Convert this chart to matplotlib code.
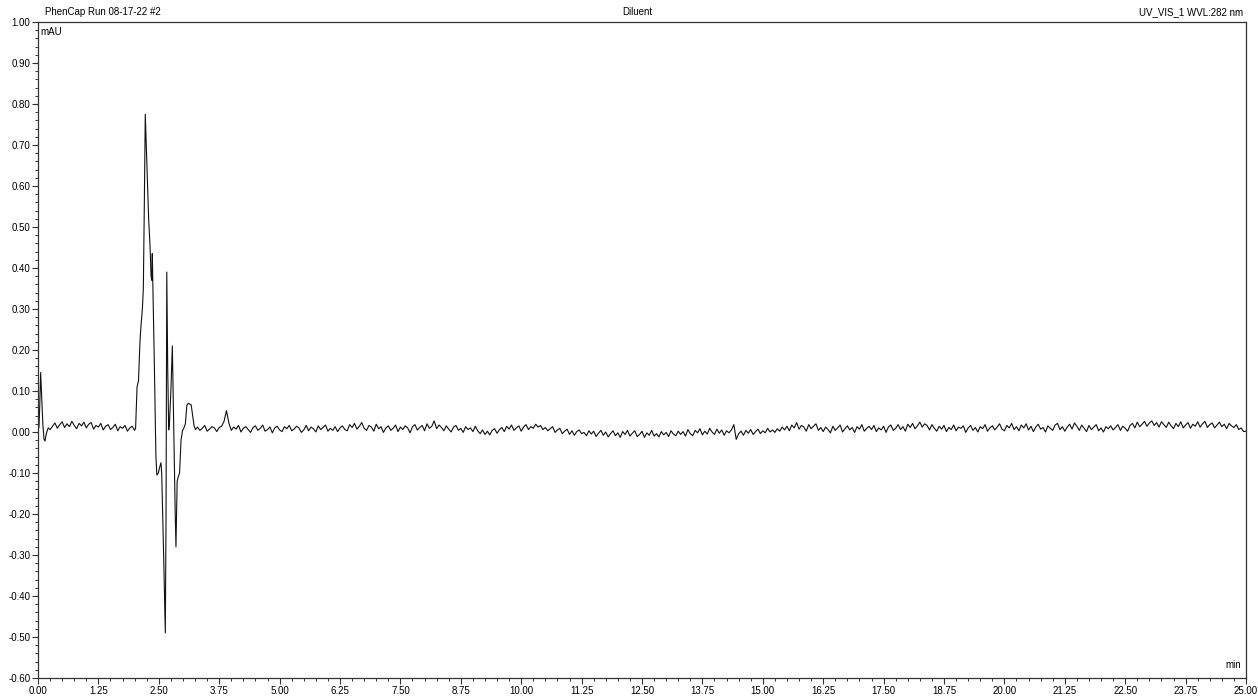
import matplotlib.pyplot as plt
from matplotlib.ticker import MultipleLocator, AutoMinorLocator
import numpy as np

plt.rcParams['font.family'] = ['Liberation Sans', 'DejaVu Sans']

# start of run: injection spike (min, mAU)
start_t = [0.00, 0.02, 0.035, 0.055, 0.075, 0.10, 0.125, 0.145, 0.17, 0.21, 0.25]
start_v = [0.005, 0.012, 0.06, 0.145, 0.09, 0.02, -0.018, -0.022, -0.005, 0.01, 0.006]

# baseline 0.30 .. 2.00 min, sampled every 0.05 min
base_a_t0 = 0.30
base_a = [0.014, 0.022, 0.009, 0.018, 0.025, 0.011, 0.020, 0.013, 0.026, 0.016,
          0.008, 0.021, 0.015, 0.024, 0.010, 0.019, 0.023, 0.007, 0.016, 0.012,
          0.021, 0.005, 0.014, 0.018, 0.006, 0.011, 0.019, 0.003, 0.013, 0.009,
          0.016, 0.002, 0.010, 0.014, 0.004]

# solvent front / diluent disturbance
peak_t = [2.02, 2.05, 2.08, 2.11, 2.13, 2.16, 2.18, 2.20, 2.22, 2.24,
          2.26, 2.29, 2.32, 2.34, 2.355, 2.365, 2.38, 2.41, 2.44, 2.46,
          2.49, 2.52, 2.545, 2.56, 2.60, 2.635, 2.65, 2.665, 2.685, 2.705,
          2.72, 2.75, 2.78, 2.81, 2.84, 2.855, 2.88, 2.90, 2.93, 2.96,
          2.99, 3.02, 3.05, 3.08, 3.11, 3.14, 3.17, 3.20, 3.23, 3.26]
peak_v = [0.01, 0.11, 0.125, 0.22, 0.257, 0.30, 0.35, 0.55, 0.775, 0.70,
          0.62, 0.52, 0.45, 0.38, 0.37, 0.435, 0.34, 0.15, -0.06, -0.105,
          -0.10, -0.085, -0.075, -0.10, -0.30, -0.49, -0.20, 0.39, 0.15, 0.005,
          0.02, 0.10, 0.21, 0.0, -0.20, -0.28, -0.12, -0.11, -0.10, -0.02,
          0.003, 0.01, 0.02, 0.065, 0.07, 0.068, 0.066, 0.04, 0.015, 0.006]

# baseline 3.30 .. 25.00 min, sampled every 0.05 min (one row = 1 min)
base_b_t0 = 3.30
base_b = [
    0.012, 0.004, 0.009, 0.016, 0.002, 0.007, 0.013, 0.010, 0.001, 0.011, 0.014, 0.026, 0.052, 0.022, 0.004, 0.012, 0.007, 0.016, 0.000, 0.009,
    0.013, 0.006, -0.001, 0.011, 0.015, 0.004, 0.009, 0.017, 0.002, 0.006, 0.012, -0.002, 0.010, 0.014, 0.005, 0.001, 0.013, 0.008, 0.016, 0.003,
    0.007, 0.014, 0.010, -0.001, 0.005, 0.016, 0.003, 0.012, 0.008, 0.000, 0.015, 0.006, 0.011, 0.017, 0.002, 0.009, 0.004, 0.013, 0.001, 0.010,
    0.015, 0.006, 0.003, 0.018, 0.011, 0.021, 0.007, 0.014, 0.023, 0.009, 0.004, 0.016, 0.012, 0.002, 0.019, 0.008, 0.013, -0.001, 0.010, 0.015,
    0.004, 0.009, 0.017, 0.001, 0.012, 0.006, 0.015, 0.010, -0.002, 0.013, 0.018, 0.005, 0.011, 0.016, 0.003, 0.020, 0.009, 0.014, 0.027, 0.008,
    0.017, 0.011, 0.003, 0.015, 0.007, 0.000, 0.012, 0.016, 0.004, 0.009, -0.001, 0.013, 0.006, 0.010, 0.001, 0.014, 0.003, -0.004, 0.005, -0.006,
    0.002, -0.007, 0.004, 0.008, -0.003, 0.006, 0.011, 0.001, 0.014, 0.007, 0.017, 0.004, 0.010, 0.015, 0.002, 0.012, 0.018, 0.006, 0.013, 0.009,
    0.019, 0.012, 0.016, 0.006, 0.011, 0.003, 0.008, 0.013, -0.001, 0.005, 0.009, -0.004, 0.002, 0.007, -0.006, 0.003, -0.008, 0.001, 0.005, -0.004,
    -0.001, -0.009, 0.003, -0.005, 0.002, -0.011, -0.003, 0.004, -0.008, 0.000, -0.012, -0.004, 0.003, -0.009, -0.002, -0.013, 0.001, -0.006, 0.004, -0.010,
    -0.003, 0.003, -0.011, -0.006, 0.002, -0.013, -0.002, -0.008, 0.004, -0.010, -0.004, -0.012, 0.001, -0.007, -0.001, -0.011, 0.003, -0.005, -0.009, 0.002,
    -0.006, 0.001, -0.010, 0.006, -0.004, -0.009, 0.004, -0.002, 0.008, -0.007, 0.002, -0.005, 0.009, 0.000, -0.006, 0.007, -0.003, 0.005, -0.008, 0.003,
    -0.002, 0.005, 0.018, -0.018, -0.004, 0.002, -0.008, 0.004, -0.003, 0.006, -0.006, 0.001, 0.007, -0.004, 0.003, -0.002, 0.009, 0.000, 0.005, -0.001,
    0.008, 0.002, 0.012, 0.005, 0.014, 0.003, 0.017, 0.010, 0.023, 0.007, 0.016, 0.012, 0.002, 0.018, 0.008, 0.014, 0.020, 0.004, 0.011, 0.001,
    0.012, 0.006, -0.002, 0.014, 0.004, 0.010, 0.017, 0.000, 0.008, 0.015, 0.005, 0.011, -0.001, 0.013, 0.007, 0.018, 0.002, 0.009, 0.014, 0.006,
    0.016, 0.001, 0.010, 0.005, 0.014, -0.001, 0.012, 0.017, 0.004, 0.009, 0.018, 0.006, 0.013, 0.002, 0.019, 0.011, 0.021, 0.008, 0.015, 0.024,
    0.012, 0.020, 0.016, 0.005, 0.018, 0.009, 0.002, 0.014, 0.007, 0.016, 0.001, 0.011, 0.006, 0.017, 0.003, 0.012, 0.009, 0.015, -0.001, 0.010,
    0.016, 0.004, 0.011, 0.000, 0.013, 0.008, 0.018, 0.002, 0.010, 0.015, 0.005, 0.012, 0.020, 0.007, 0.003, 0.016, 0.010, 0.021, 0.006, 0.013,
    0.003, 0.017, 0.010, 0.020, 0.005, 0.014, 0.001, 0.012, 0.019, 0.007, 0.011, 0.000, 0.015, 0.009, 0.004, 0.017, 0.021, 0.006, 0.013, 0.002,
    0.012, 0.019, 0.007, 0.022, 0.014, 0.004, 0.017, 0.009, 0.001, 0.016, 0.006, 0.012, 0.018, 0.003, 0.010, 0.000, 0.013, 0.008, 0.015, 0.005,
    0.011, 0.018, 0.004, 0.014, 0.009, 0.002, 0.016, 0.021, 0.010, 0.024, 0.013, 0.019, 0.026, 0.014, 0.022, 0.027, 0.016, 0.023, 0.012, 0.025,
    0.018, 0.011, 0.024, 0.015, 0.008, 0.021, 0.013, 0.025, 0.010, 0.017, 0.023, 0.009, 0.019, 0.014, 0.025, 0.012, 0.020, 0.026, 0.011, 0.018,
    0.022, 0.010, 0.017, 0.024, 0.013, 0.019, 0.008, 0.021, 0.015, 0.011, 0.018, 0.006, 0.010, 0.001, 0.002,
]

step = 0.05
t = np.concatenate([start_t,
                    base_a_t0 + step * np.arange(len(base_a)),
                    peak_t,
                    base_b_t0 + step * np.arange(len(base_b))])
v = np.concatenate([start_v, base_a, peak_v, base_b])

fig = plt.figure(figsize=(12.58, 6.96), dpi=100)
ax = fig.add_axes([38 / 1258, 1 - 678 / 696, 1208 / 1258, 656 / 696])
ax.plot(t, v, color='#111111', linewidth=0.8)

ax.set_xlim(0, 25)
ax.set_ylim(-0.6, 1.0)
ax.xaxis.set_major_locator(MultipleLocator(1.25))
ax.xaxis.set_minor_locator(AutoMinorLocator(5))
ax.yaxis.set_major_locator(MultipleLocator(0.1))
ax.yaxis.set_minor_locator(AutoMinorLocator(5))
ax.xaxis.set_major_formatter(plt.FuncFormatter(lambda x, p: f'{x:.2f}'))
ax.yaxis.set_major_formatter(plt.FuncFormatter(lambda y, p: f'{y:.2f}'))
ax.tick_params(which='major', length=4, width=0.8, labelsize=7, pad=1.5, color='#333333')
ax.tick_params(which='minor', length=2.2, width=0.7, color='#333333')
for s in ax.spines.values():
    s.set_linewidth(0.9)
    s.set_color('#333333')

ax.text(0.002, 0.992, 'mAU', transform=ax.transAxes, fontsize=7, va='top', ha='left')
ax.text(0.996, 0.012, 'min', transform=ax.transAxes, fontsize=7, va='bottom', ha='right')

fig.text(45 / 1258, 1 - 12 / 696, 'PhenCap Run 08-17-22 #2', fontsize=7, va='center', ha='left')
fig.text(637 / 1258, 1 - 12 / 696, 'Diluent', fontsize=7, va='center', ha='center')
fig.text(1243 / 1258, 1 - 12 / 696, 'UV_VIS_1 WVL:282 nm', fontsize=7, va='center', ha='right')

fig.savefig('out.png', dpi=100)
